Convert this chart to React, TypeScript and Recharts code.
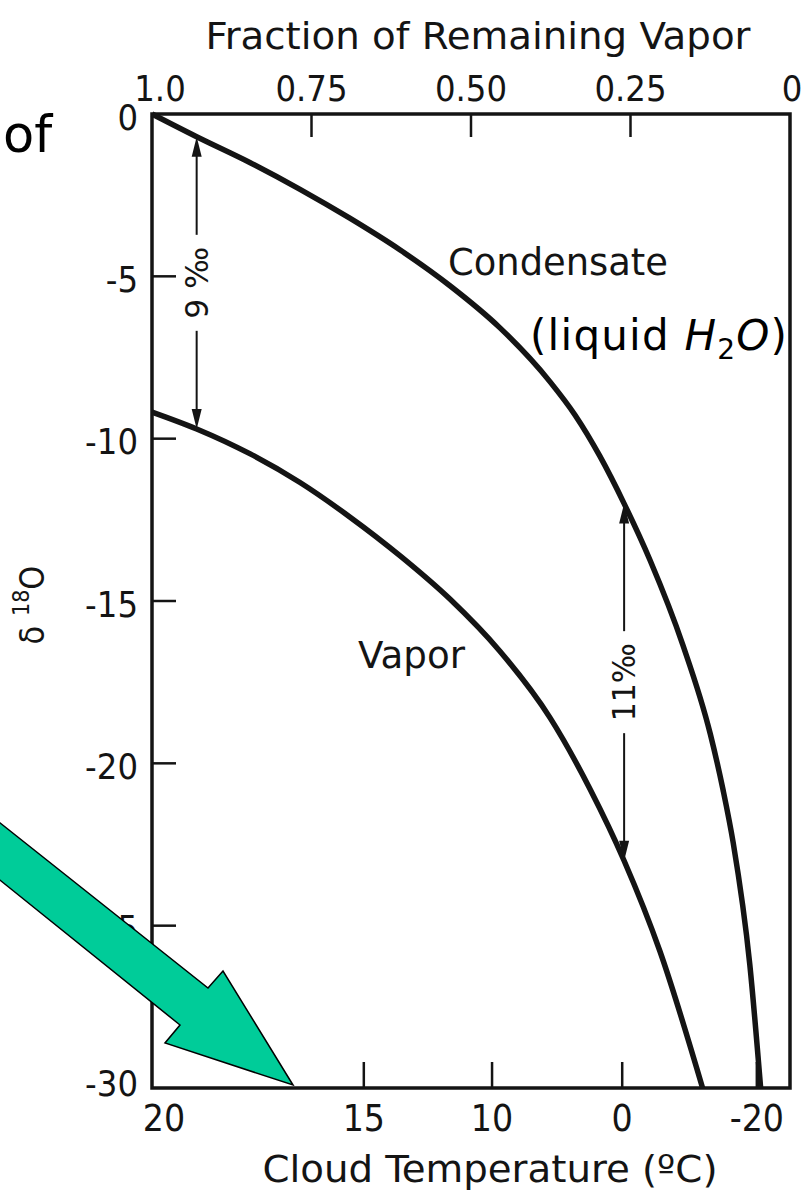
import React from 'react';
import { LineChart, Line, XAxis, YAxis, ReferenceArea, ReferenceLine } from 'recharts';

// Top axis: fraction of vapor remaining in the cloud
const FRACTION_TICKS = [1, 0.75, 0.5, 0.25, 0];
const FRACTION_LABELS = ['1.0', '0.75', '0.50', '0.25', '0'];

// Bottom axis: cloud temperature, placed at the vapor fraction where it occurs
const TEMP_LABELS = ['20', '15', '10', '0', '-20'];
const TEMP_TICK_FRACTION = [1, 0.668, 0.467, 0.263, 0.052];

// Left axis: delta 18O (per mil)
const DELTA_TICKS = [0, -5, -10, -15, -20, -25, -30];

// Condensate (liquid) curve
const CONDENSATE_F = [1.0, 0.93, 0.846, 0.768, 0.69, 0.611, 0.533, 0.455, 0.376, 0.337, 0.298, 0.26, 0.219, 0.168, 0.125, 0.105, 0.089, 0.063, 0.046];
const CONDENSATE_D = [0, -0.7, -1.5, -2.32, -3.21, -4.19, -5.29, -6.58, -8.25, -9.27, -10.54, -12.0, -13.76, -16.35, -19.09, -20.81, -22.45, -26.2, -30];

// Vapor curve
const VAPOR_F = [1.0, 0.93, 0.846, 0.768, 0.69, 0.611, 0.533, 0.455, 0.376, 0.3135, 0.26, 0.204, 0.137];
const VAPOR_D = [-9.18, -9.7, -10.47, -11.35, -12.41, -13.61, -14.94, -16.54, -18.6, -20.79, -23.0, -25.78, -30];

// Vertical separation markers between condensate and vapor
const GAP_F = [0.93, 0.26];
const GAP_TOP = [-0.7, -12];
const GAP_BOTTOM = [-9.7, -23];
const GAP_LABELS = ['9 ‰', '11‰'];

const condensateData = CONDENSATE_F.map((f, i) => ({ f, d: CONDENSATE_D[i] }));
const vaporData = VAPOR_F.map((f, i) => ({ f, d: VAPOR_D[i] }));

const INK = '#141414';
const TICK_FONT = '"Liberation Sans Narrow", "DejaVu Sans Condensed", "Liberation Sans", sans-serif';
const LABEL_FONT = '"DejaVu Sans", "Noto Sans", sans-serif';
const GAP_TEXT_LEN = [72, 78];

function TopTick(props: any) {
  const { x, y, payload } = props;
  const v = payload.value;
  const i = FRACTION_TICKS.indexOf(v);
  const inner = v > 0 && v < 1;
  return (
    <g>
      {inner && <line x1={x} y1={y} x2={x} y2={y + 23} stroke={INK} strokeWidth={2.5} />}
      <text x={x + (v === 1 ? 8 : v === 0 ? 2 : 0)} y={y - 13} textAnchor="middle" fontSize={36} fontFamily={TICK_FONT} fill={INK}>
        {FRACTION_LABELS[i]}
      </text>
    </g>
  );
}

function BottomTick(props: any) {
  const { x, y, payload } = props;
  const v = payload.value;
  const i = TEMP_TICK_FRACTION.indexOf(v);
  const inner = v < 1;
  return (
    <g>
      {inner && <line x1={x} y1={y} x2={x} y2={y - 26} stroke={INK} strokeWidth={2.5} />}
      <text x={x + (v === 1 ? 12 : 0)} y={y + 43} textAnchor="middle" fontSize={37} fontFamily={TICK_FONT} fill={INK}>
        {TEMP_LABELS[i]}
      </text>
    </g>
  );
}

function LeftTick(props: any) {
  const { x, y, payload } = props;
  const v = payload.value;
  const inner = v < 0 && v > -30;
  return (
    <g>
      {inner && <line x1={x} y1={y} x2={x + 24} y2={y} stroke={INK} strokeWidth={2.5} />}
      <text x={x - 14} y={v === -30 ? y - 5 : y + 3} textAnchor="end" dominantBaseline="central" fontSize={36} fontFamily={TICK_FONT} fill={INK}>
        {String(v)}
      </text>
    </g>
  );
}

function GapArrow(props: any) {
  const { x1, y1, y2, text, textLen } = props;
  const top = Math.min(y1, y2);
  const bottom = Math.max(y1, y2);
  const x = x1;
  const mid = (top + bottom) / 2;
  const half = textLen / 2 + 12;
  const head = 20;
  const hw = 5;
  return (
    <g>
      <line x1={x} y1={top + head - 2} x2={x} y2={mid - half} stroke={INK} strokeWidth={2} />
      <line x1={x} y1={mid + half} x2={x} y2={bottom - head + 2} stroke={INK} strokeWidth={2} />
      <polygon points={`${x},${top} ${x - hw},${top + head} ${x + hw},${top + head}`} fill={INK} />
      <polygon points={`${x},${bottom} ${x - hw},${bottom - head} ${x + hw},${bottom - head}`} fill={INK} />
      <text
        x={x}
        y={mid}
        transform={`rotate(-90 ${x} ${mid})`}
        textAnchor="middle"
        dominantBaseline="central"
        fontSize={32}
        fontFamily={TICK_FONT}
        textLength={textLen}
        lengthAdjust="spacingAndGlyphs"
        fill={INK}
      >
        {text}
      </text>
    </g>
  );
}

function TopTitle(props: any) {
  const vb = props.viewBox || { x: 152, y: 0, width: 638 };
  return (
    <text x={vb.x + vb.width / 2 + 7} y={49} textAnchor="middle" fontSize={38} fontFamily={TICK_FONT} fill={INK} textLength={545} lengthAdjust="spacingAndGlyphs">
      Fraction of  Remaining Vapor
    </text>
  );
}

function BottomTitle(props: any) {
  const vb = props.viewBox || { x: 152, y: 1088, width: 638 };
  return (
    <text x={vb.x + vb.width / 2 + 19} y={vb.y + 94} textAnchor="middle" fontSize={38} fontFamily={TICK_FONT} fill={INK} textLength={455} lengthAdjust="spacingAndGlyphs">
      Cloud  Temperature (ºC)
    </text>
  );
}

function LeftTitle(props: any) {
  const vb = props.viewBox || { x: 0, y: 114, height: 974 };
  const cx = vb.x + 32;
  const cy = vb.y + vb.height / 2 + 4;
  return (
    <text x={cx} y={cy} transform={`rotate(-90 ${cx} ${cy})`} textAnchor="middle" dominantBaseline="central" fontSize={34} fontFamily={TICK_FONT} fill={INK}>
      δ <tspan fontSize={23} dy={-11}>18</tspan>
      <tspan dy={11}>O</tspan>
    </text>
  );
}

export default function App() {
  return (
    <div style={{ position: 'absolute', left: 0, top: 0, width: 807, height: 1194, background: '#fff', overflow: 'hidden' }}>
      <LineChart width={807} height={1194} margin={{ top: 0, right: 17, bottom: 0, left: 0 }}>
        <XAxis
          xAxisId="frac"
          orientation="top"
          type="number"
          dataKey="f"
          domain={[0, 1]}
          reversed
          ticks={FRACTION_TICKS}
          interval={0}
          height={114}
          axisLine={false}
          tickLine={false}
          tickSize={0}
          tickMargin={0}
          tick={<TopTick />}
          label={{ content: <TopTitle /> }}
        />
        <XAxis
          xAxisId="temp"
          orientation="bottom"
          type="number"
          dataKey="f"
          domain={[0, 1]}
          reversed
          ticks={TEMP_TICK_FRACTION}
          interval={0}
          height={106}
          axisLine={false}
          tickLine={false}
          tickSize={0}
          tickMargin={0}
          tick={<BottomTick />}
          label={{ content: <BottomTitle /> }}
        />
        <YAxis
          yAxisId="d"
          type="number"
          domain={[-30, 0]}
          ticks={DELTA_TICKS}
          interval={0}
          width={152}
          axisLine={false}
          tickLine={false}
          tickSize={0}
          tickMargin={0}
          tick={<LeftTick />}
          label={{ content: <LeftTitle /> }}
        />
        <ReferenceArea xAxisId="frac" yAxisId="d" x1={0} x2={1} y1={-30} y2={0} fill="none" stroke={INK} strokeWidth={3.5} ifOverflow="visible" />
        <Line
          xAxisId="frac"
          yAxisId="d"
          data={condensateData}
          dataKey="d"
          type="monotone"
          stroke={INK}
          strokeWidth={5.5}
          dot={false}
          activeDot={false}
          isAnimationActive={false}
        />
        <Line
          xAxisId="temp"
          yAxisId="d"
          data={vaporData}
          dataKey="d"
          type="monotone"
          stroke={INK}
          strokeWidth={5.5}
          dot={false}
          activeDot={false}
          isAnimationActive={false}
        />
        {GAP_F.map((f, i) => (
          <ReferenceLine
            key={i}
            xAxisId="frac"
            yAxisId="d"
            segment={[{ x: f, y: GAP_TOP[i] }, { x: f, y: GAP_BOTTOM[i] }]}
            shape={(p: any) => <GapArrow {...p} text={GAP_LABELS[i]} textLen={GAP_TEXT_LEN[i]} />}
          />
        ))}
      </LineChart>
      <svg width={807} height={1194} style={{ position: 'absolute', left: 0, top: 0, pointerEvents: 'none' }}>
        <text x={448} y={275} fontSize={37} fontFamily={LABEL_FONT} fill={INK} textLength={220} lengthAdjust="spacingAndGlyphs">
          Condensate
        </text>
        <text x={358} y={668} fontSize={37} fontFamily={LABEL_FONT} fill={INK} textLength={107} lengthAdjust="spacingAndGlyphs">
          Vapor
        </text>
        <text x={530} y={350} fontSize={42} fontFamily={LABEL_FONT} fill="#000" textLength={257} lengthAdjust="spacing">
          (liquid <tspan fontStyle="italic">H</tspan>
          <tspan fontSize={28} dy={9}>2</tspan>
          <tspan fontStyle="italic" dy={-9}>O</tspan>)
        </text>
        <text x={3} y={152} fontSize={51} fontFamily={LABEL_FONT} fill="#000">
          of
        </text>
        <polygon
          points="-20,807 208,988 223,971 293,1085 165,1043 180,1025 -20,864"
          fill="#00CC99"
          stroke="#000"
          strokeWidth={1.5}
          strokeLinejoin="miter"
        />
      </svg>
    </div>
  );
}
